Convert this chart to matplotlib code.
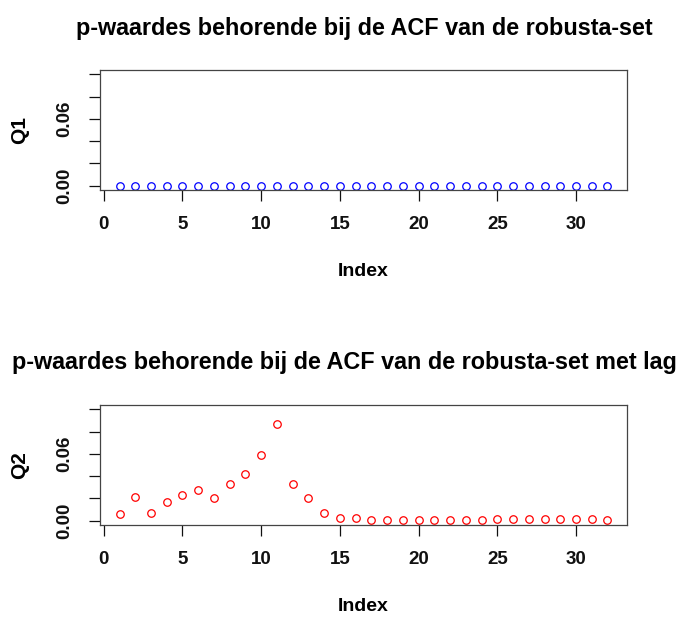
import matplotlib.pyplot as plt

index = list(range(1, 33))
q1 = [0.0, 0.0, 0.0, 0.0, 0.0, 0.0, 0.0, 0.0, 0.0, 0.0, 0.0, 0.0, 0.0, 0.0, 0.0, 0.0,
      0.0, 0.0, 0.0, 0.0, 0.0, 0.0, 0.0, 0.0, 0.0, 0.0, 0.0, 0.0, 0.0, 0.0, 0.0, 0.0]
q2 = [0.0060, 0.0212, 0.0069, 0.0167, 0.0233, 0.0275, 0.0200, 0.0331, 0.0418, 0.0591,
      0.0872, 0.0331, 0.0200, 0.0072, 0.0027, 0.0027, 0.0002, 0.0002, 0.0002, 0.0002,
      0.0002, 0.0002, 0.0002, 0.0002, 0.0011, 0.0011, 0.0011, 0.0011, 0.0011, 0.0011,
      0.0011, 0.0002]

x_ticks = [0, 5, 10, 15, 20, 25, 30]
y_ticks = [0.00, 0.02, 0.04, 0.06, 0.08, 0.10]
y_labels = ['0.00', '', '', '0.06', '', '']

title1 = 'p-waardes behorende bij de ACF van de robusta-set'
title2 = 'p-waardes behorende bij de ACF van de robusta-set met lag'

plt.rcParams['font.family'] = ['Liberation Sans', 'DejaVu Sans']
plt.rcParams['font.weight'] = 'bold'

W, H = 679, 617
fig = plt.figure(figsize=(W / 100, H / 100), dpi=100)
ax1 = fig.add_axes([100 / W, 1 - 190 / H, 527 / W, 120 / H])
ax2 = fig.add_axes([100 / W, 1 - 525 / H, 527 / W, 120 / H])


def style(ax, y, colour, ylab):
    ax.plot(index, y, 'o', mfc='none', mec=colour, ms=5.4, mew=0.9)
    ax.set_xlim(-0.24, 33.24)
    ax.set_ylim(-0.004, 0.104)
    ax.set_xticks(x_ticks)
    ax.set_xticklabels([str(t) for t in x_ticks], fontsize=13.5, fontweight='bold')
    ax.set_yticks(y_ticks)
    ax.set_yticklabels(y_labels, fontsize=13.5, fontweight='bold', rotation=90, va='center')
    ax.tick_params(direction='out', length=8, width=0.9, colors='#111111', pad=11)
    for s in ax.spines.values():
        s.set_color('#444444')
        s.set_linewidth(0.9)
    ax.set_xlabel('Index', fontsize=14, fontweight='bold', va='center')
    ax.xaxis.set_label_coords(0.5, -0.68)
    ax.set_ylabel(ylab, fontsize=15, fontweight='bold', va='center')
    ax.yaxis.set_label_coords(-0.152, 0.5)


style(ax1, q1, '#0000ff', 'Q1')
style(ax2, q2, '#ff0000', 'Q2')

fig.text(364 / W, 1 - 28 / H, title1, ha='center', va='center', fontsize=16.8, fontweight='bold')
fig.text(12 / W, 1 - 363 / H, title2, ha='left', va='center', fontsize=16.8, fontweight='bold')

fig.savefig('out.png', dpi=100, facecolor='white')
